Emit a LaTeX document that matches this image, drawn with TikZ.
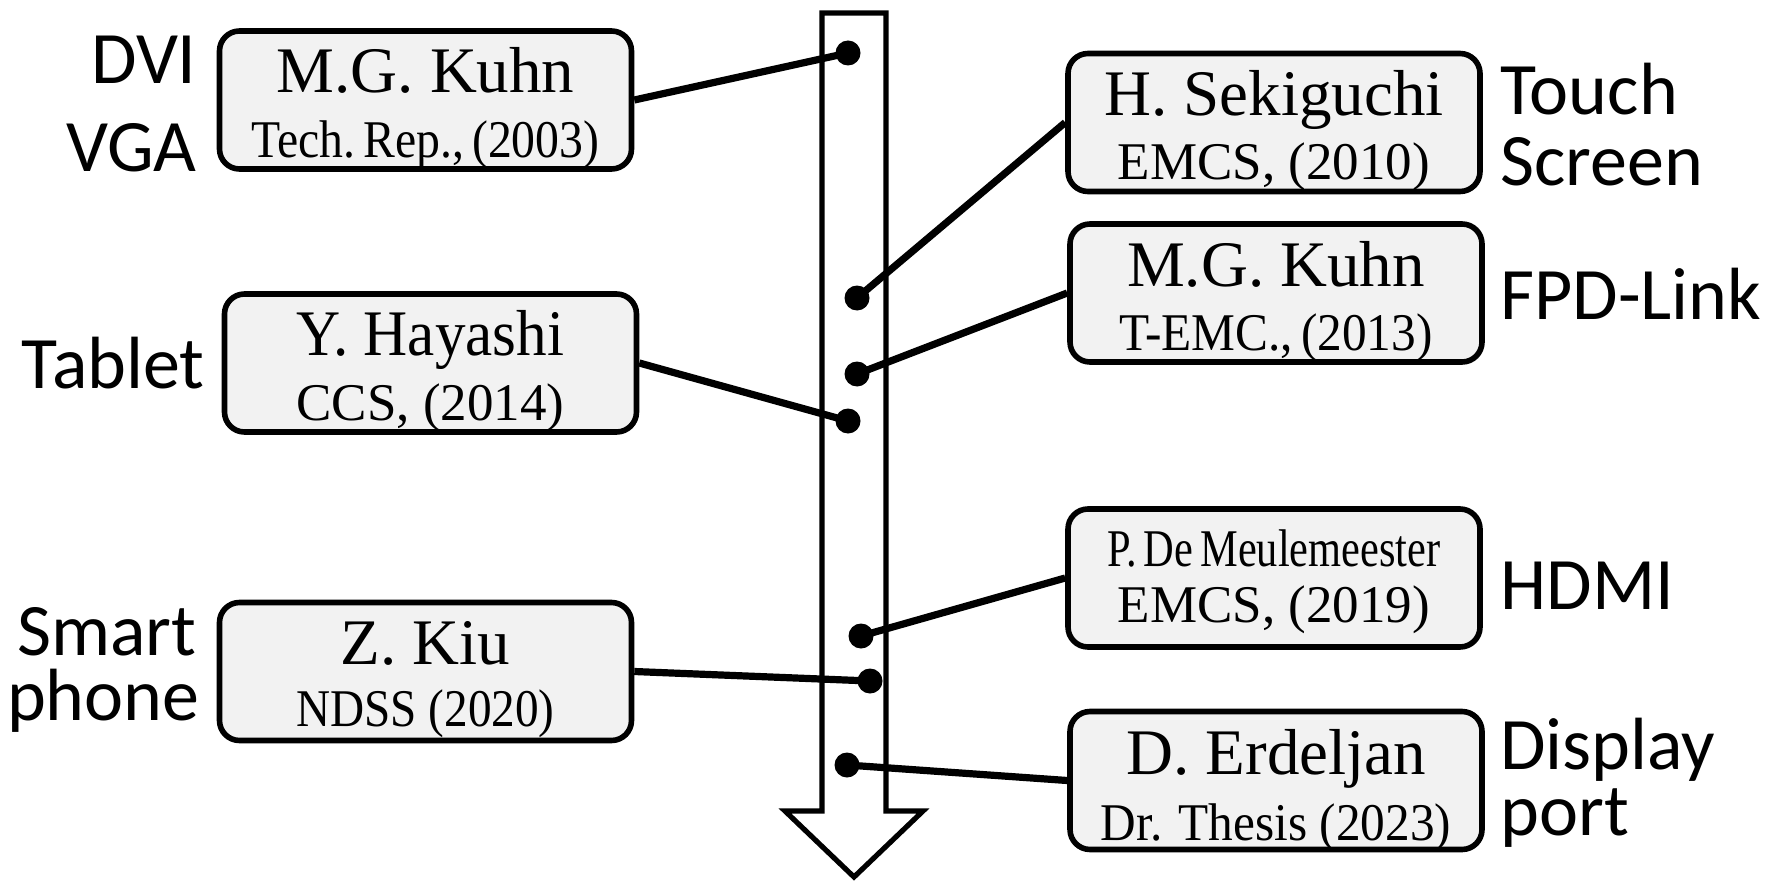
\documentclass[tikz,border=0pt]{standalone}
\usepackage{graphicx}
\usepackage{fontspec}
\setmainfont{Liberation Serif}
\newfontfamily\labfont{Carlito}
\definecolor{boxgray}{HTML}{F2F2F2}
\newcommand\sq[2]{\scalebox{#1}[1]{#2}}
\tikzset{
  pub/.style={draw=black, line width=2.8pt, fill=boxgray, rounded corners=10pt,
    minimum width=206pt, minimum height=69pt, inner sep=0pt},
  ta/.style={anchor=base, font=\fontsize{32.5}{39}\selectfont, inner sep=0pt},
  tb/.style={anchor=base, font=\fontsize{26.5}{32}\selectfont, inner sep=0pt},
  labl/.style={font=\labfont\fontsize{37}{44}\selectfont, inner sep=0pt},
  conn/.style={line width=3.6pt},
  dotc/.style={circle, fill=black, minimum size=12.5pt, inner sep=0pt},
  arrowbody/.style={draw, line width=2.6pt, fill=white, miter limit=10},
}
\begin{document}
\begin{tikzpicture}[x=0.5pt,y=-0.5pt]
\useasboundingbox (0,0) rectangle (1765,882);
% timeline arrow
\draw[arrowbody] (822,13) -- (886,13) -- (886,811) -- (923,811) -- (854,877)
  -- (785,811) -- (822,811) -- cycle;
% boxes
\node[pub] (A) at (425.5,100) {};
\node[pub] (B) at (430.5,363) {};
\node[pub] (C) at (425.5,671.5) {};
\node[pub] (D) at (1274,122.5) {};
\node[pub] (E) at (1276,293) {};
\node[pub] (F) at (1274,578) {};
\node[pub] (G) at (1276,780.5) {};
% box texts
\node[ta] (A1) at ([yshift=3.5pt]A.center) {M.G. Kuhn};
\node[tb] (A2) at ([yshift=-29pt]A.center) {\sq{0.9}{Tech.\,Rep.,\,(2003)}};
\node[ta] (B1) at ([yshift=4pt]B.center) {\sq{0.94}{Y. Hayashi}};
\node[tb] (B2) at ([yshift=-28.5pt]B.center) {CCS, (2014)};
\node[ta] (C1) at ([yshift=3.5pt]C.center) {Z. Kiu};
\node[tb] (C2) at ([yshift=-27.5pt]C.center) {\sq{0.89}{NDSS (2020)}};
\node[ta] (D1) at ([yshift=3.5pt]D.center) {H. Sekiguchi};
\node[tb] (D2) at ([yshift=-28.5pt]D.center) {EMCS, (2010)};
\node[ta] (E1) at ([yshift=3.5pt]E.center) {M.G. Kuhn};
\node[tb] (E2) at ([yshift=-28.5pt]E.center) {\sq{0.93}{T-EMC.,\,(2013)}};
\node[tb] (F1) at ([yshift=6pt]F.center) {\sq{0.8}{P.\,De\,Meulemeester}};
\node[tb] (F2) at ([yshift=-22pt]F.center) {EMCS, (2019)};
\node[ta] (G1) at ([yshift=3pt]G.center) {D. Erdeljan};
\node[tb] (G2) at ([yshift=-30pt]G.center) {\sq{0.93}{Dr. Thesis (2023)}};
% side labels
\node[labl, anchor=base east] (l1) at (197,84) {DVI};
\node[labl, anchor=base east] (l2) at (197,172) {VGA};
\node[labl, anchor=base east] (l3) at (205,388) {Tablet};
\node[labl, anchor=base east] (l4) at (197,655) {Smart};
\node[labl, anchor=base east] (l5) at (200,720) {phone};
\node[labl, anchor=base west] (r1) at (1500,115) {Touch};
\node[labl, anchor=base west] (r2) at (1500,186) {Screen};
\node[labl, anchor=base west] (r3) at (1500,319) {FPD-Link};
\node[labl, anchor=base west] (r4) at (1500,609) {HDMI};
\node[labl, anchor=base west] (r5) at (1500,769) {Display};
\node[labl, anchor=base west] (r6) at (1500,835) {port};
% dots
\node[dotc] (d1) at (848,53) {};
\node[dotc] (d2) at (857,298) {};
\node[dotc] (d3) at (857,374) {};
\node[dotc] (d4) at (848,421) {};
\node[dotc] (d5) at (861,636) {};
\node[dotc] (d6) at (870,681) {};
\node[dotc] (d7) at (847,765) {};
% connectors
\draw[conn] (A.east) -- (d1.center);
\draw[conn] (D.west) -- (d2.center);
\draw[conn] (E.west) -- (d3.center);
\draw[conn] (B.east) -- (d4.center);
\draw[conn] (F.west) -- (d5.center);
\draw[conn] (C.east) -- (d6.center);
\draw[conn] (G.west) -- (d7.center);
\end{tikzpicture}
\end{document}
